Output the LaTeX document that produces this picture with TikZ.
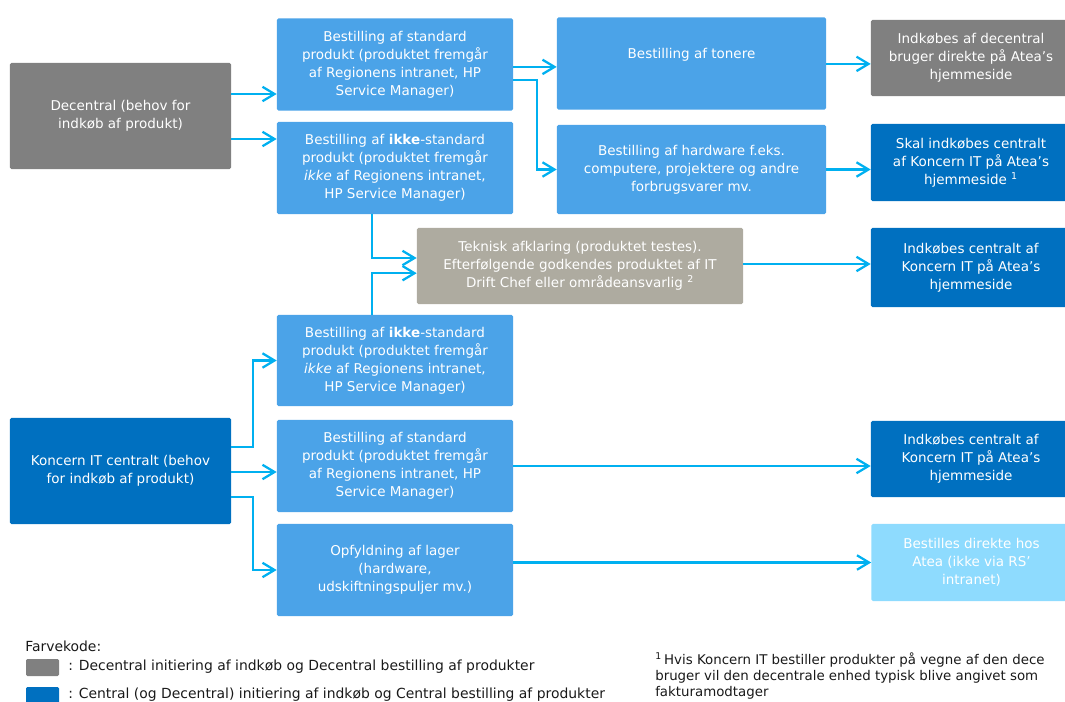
\documentclass[tikz,border=0pt]{standalone}
\usepackage{fontspec}
\setmainfont{DejaVu Sans}
\usetikzlibrary{arrows.meta}
\definecolor{decgray}{RGB}{128,128,128}
\definecolor{bestblue}{RGB}{75,163,232}
\definecolor{centblue}{RGB}{0,112,192}
\definecolor{testgray}{RGB}{174,171,160}
\definecolor{atealight}{RGB}{142,219,254}
\definecolor{flowcyan}{RGB}{0,176,240}

\begin{document}
\begin{tikzpicture}[x=0.025cm, y=-0.025cm,
    box/.style={rounded corners=1pt, text=white, align=center, inner sep=0pt,
        font=\fontsize{9.6}{12.8}\selectfont},
    startbox/.style={box, minimum width=5.525cm, minimum height=2.65cm},
    ordrebox/.style={box, fill=bestblue, minimum width=5.9cm, minimum height=2.3cm},
    slutbox/.style={box, minimum width=5cm, minimum height=1.925cm},
    flow/.style={flowcyan, line width=1.6pt, -{Straight Barb[length=3mm, width=3.6mm, line width=1.6pt]}},
    legtext/.style={anchor=west, inner sep=0pt, text=black!90, font=\fontsize{9.9}{11.4}\selectfont},
    fodtext/.style={legtext, font=\fontsize{9.5}{11.4}\selectfont}]
        \useasboundingbox (0,0) rectangle (1065,702);
        \clip (0,0) rectangle (1065,702);

        % udgangspunkter
        \node[startbox, fill=decgray] (decentral) at (120.5,116) {Decentral (behov for\\indkøb af produkt)};
        \node[startbox, fill=centblue] (koncern) at (120.5,471) {Koncern IT centralt (behov\\for indkøb af produkt)};

        % bestillinger
        \node[ordrebox] (stdA) at (395,64.5) {Bestilling af standard\\produkt (produktet fremgår\\af Regionens intranet, HP\\Service Manager)};
        \node[ordrebox] (ikkeA) at (395,168) {Bestilling af \textbf{ikke}-standard\\produkt (produktet fremgår\\\textit{ikke} af Regionens intranet,\\HP Service Manager)};
        \node[ordrebox, minimum width=6.725cm] (tonere) at (691.5,63.5) {Bestilling af tonere\\[1pt]\mbox{}};
        \node[ordrebox, minimum width=6.725cm, minimum height=2.225cm] (hardware) at (691.5,169.5) {Bestilling af hardware f.eks.\\computere, projektere og andre\\forbrugsvarer mv.};
        \node[box, fill=testgray, minimum width=8.15cm, minimum height=1.9cm] (teknisk) at (580,266) {Teknisk afklaring (produktet testes).\\Efterfølgende godkendes produktet af IT\\Drift Chef eller områdeansvarlig \textsuperscript{2}};
        \node[ordrebox, minimum height=2.275cm] (ikkeB) at (395,360.5) {Bestilling af \textbf{ikke}-standard\\produkt (produktet fremgår\\\textit{ikke} af Regionens intranet,\\HP Service Manager)};
        \node[ordrebox] (stdB) at (395,466) {Bestilling af standard\\produkt (produktet fremgår\\af Regionens intranet, HP\\Service Manager)};
        \node[ordrebox] (lager) at (395,570) {Opfyldning af lager\\(hardware,\\udskiftningspuljer mv.)};

        % indkøb
        \node[slutbox, fill=decgray, minimum height=1.9cm] (decindk) at (971,58) {Indkøbes af decentral\\bruger direkte på Atea’s\\hjemmeside};
        \node[slutbox, fill=centblue] (skal) at (971,162.5) {Skal indkøbes centralt\\af Koncern IT på Atea’s\\hjemmeside \textsuperscript{1}};
        \node[slutbox, fill=centblue, minimum height=1.975cm] (centA) at (971,267.5) {Indkøbes centralt af\\Koncern IT på Atea’s\\hjemmeside};
        \node[slutbox, fill=centblue, minimum height=1.9cm] (centB) at (971,459) {Indkøbes centralt af\\Koncern IT på Atea’s\\hjemmeside};
        \node[slutbox, fill=atealight] (direkte) at (971.5,562.5) {Bestilles direkte hos\\Atea (ikke via RS’\\intranet)};

        % pile
        \draw[flow] ([yshift=0.55cm]decentral.east) -- ([yshift=0.55cm]decentral.east -| stdA.west);
        \draw[flow] ([yshift=-0.575cm]decentral.east) -- ([yshift=-0.575cm]decentral.east -| ikkeA.west);
        \draw[flow] ([yshift=-0.06cm]stdA.east) -- ([yshift=-0.06cm]stdA.east -| tonere.west);
        \draw[flow] ([yshift=-0.39cm]stdA.east) -| ([xshift=-0.5cm]hardware.west) -- (hardware.west);
        \draw[flow] ([yshift=-0.01cm]tonere.east) -- ([yshift=-0.01cm]tonere.east -| decindk.west);
        \draw[flow] (hardware.east) -- (hardware.east -| skal.west);
        \draw[flow] ([xshift=-0.575cm]ikkeA.south) |- ([yshift=0.2cm]teknisk.west);
        \draw[flow] ([xshift=-0.575cm]ikkeB.north) |- ([yshift=-0.18cm]teknisk.west);
        \draw[flow] ([yshift=0.05cm]teknisk.east) -- ([yshift=0.05cm]teknisk.east -| centA.west);
        \draw[flow] ([yshift=0.6cm]koncern.east) -| ([xshift=-0.6cm]ikkeB.west) -- (ikkeB.west);
        \draw[flow] ([yshift=-0.025cm]koncern.east) -- ([yshift=-0.025cm]koncern.east -| stdB.west);
        \draw[flow] ([yshift=-0.65cm]koncern.east) -| ([xshift=-0.6cm]lager.west) -- (lager.west);
        \draw[flow] (stdB.east) -- (stdB.east -| centB.west);
        \draw[flow] (direkte.west -| lager.east) -- (direkte.west);

        % farvekode
        \node[legtext] (farvekode) at (25,646) {Farvekode:};
        \fill[decgray, rounded corners=1pt] (26,659) rectangle (59,676);
        \node[legtext] (legdec) at (68,667) {: Decentral initiering af indkøb og Decentral bestilling af produkter};
        \fill[centblue, rounded corners=1pt] (26,687) rectangle (59,705);
        \node[legtext] (legcent) at (68,695) {: Central (og Decentral) initiering af indkøb og Central bestilling af produkter};

        % fodnote
        \node[fodtext, anchor=north west, align=left] (fodnote) at (655,652) {\textsuperscript{1}\,Hvis Koncern IT bestiller produkter på vegne af den dece\\bruger vil den decentrale enhed typisk blive angivet som\\fakturamodtager};
    \end{tikzpicture}
\end{document}
